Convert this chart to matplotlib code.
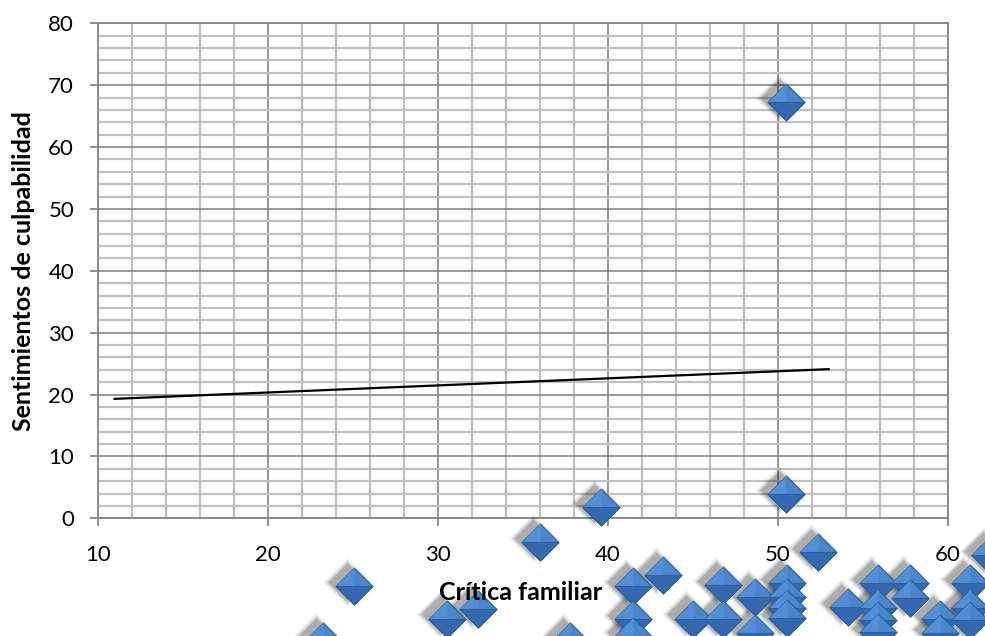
import matplotlib.pyplot as plt
from matplotlib.path import Path
from matplotlib.ticker import MultipleLocator
from matplotlib.transforms import offset_copy

plt.rcParams['font.family'] = ['Lato', 'DejaVu Sans']

# Puntos: Crítica familiar (x) vs Sentimientos de culpabilidad (y)
critica = [50.5, 39.6, 50.5, 36.0, 52.35, 43.24, 25.09, 41.47, 46.8, 50.53,
           61.31, 55.92, 57.78, 48.66, 50.53, 57.78, 62.5, 50.53, 32.35, 54.15,
           55.92, 61.31, 30.53, 41.47, 45.04, 46.8, 50.53, 59.55, 55.92, 61.31,
           48.66, 59.55, 55.92, 41.47, 23.25, 37.78]
culpa = [67.3, 1.8, 3.9, -3.8, -5.4, -9.2, -10.9, -10.9, -10.8, -10.5,
         -10.5, -10.5, -10.5, -12.7, -12.7, -12.9, -5.9, -14.5, -14.7, -14.4,
         -14.5, -14.5, -16.2, -16.3, -16.2, -16.3, -16.1, -16.3, -16.4, -16.4,
         -18.5, -18.5, -18.4, -19.0, -19.8, -19.8]

# Línea de tendencia (lineal)
trend_x = [11, 53]
trend_y = [19.3, 24.1]

x_ticks = [10, 20, 30, 40, 50, 60]
y_ticks = [0, 10, 20, 30, 40, 50, 60, 70, 80]

fig = plt.figure(figsize=(9.85, 6.36), dpi=100)
ax = fig.add_axes([0.0992, 0.1851, 0.8629, 0.7783])
ax.set_xlim(x_ticks[0], x_ticks[-1])
ax.set_ylim(y_ticks[0], y_ticks[-1])
ax.set_xticks(x_ticks)
ax.set_yticks(y_ticks)
ax.xaxis.set_minor_locator(MultipleLocator(2))
ax.yaxis.set_minor_locator(MultipleLocator(2))

ax.grid(which='minor', color='#c0c0c0', linewidth=1.6)
ax.grid(which='major', color='#868686', linewidth=1.2)
ax.set_axisbelow(True)
for s in ['left', 'bottom', 'top', 'right']:
    ax.spines[s].set_color('#868686')
    ax.spines[s].set_linewidth(1.3)

ax.tick_params(which='major', direction='out', length=6, width=1.3, color='#868686',
               labelsize=16, labelcolor='black')
ax.tick_params(axis='y', pad=11)
ax.tick_params(axis='x', pad=13)
ax.tick_params(which='minor', length=0)

# títulos de ejes como texto de figura, por encima de los rombos
fig.text(521 / 985, 1 - 592 / 636, 'Crítica familiar', fontsize=18, fontweight='bold',
         ha='center', va='center', zorder=10)
fig.text(24 / 985, 1 - 271 / 636, 'Sentimientos de culpabilidad', fontsize=18,
         fontweight='bold', rotation=90, ha='center', va='center', zorder=10)

ax.plot(trend_x, trend_y, color='black', linewidth=1.6, zorder=3)

# rombos con relieve
rombo = Path([(0, 1), (1, 0), (0, -1), (-1, 0), (0, 1)], closed=True)
mitad_inf = Path([(-1, 0), (1, 0), (0, -1), (-1, 0)], closed=True)
cara_izq = Path([(-1, 0), (0, 1), (0, 0), (-1, 0)], closed=True)
ms = 26.5

# sombra difusa hacia arriba a la izquierda
sombra = offset_copy(ax.transData, fig=fig, x=-5, y=3, units='points')
for size, alpha in [(35, 0.04), (33, 0.05), (31, 0.07), (29, 0.09), (27, 0.11)]:
    ax.plot(critica, culpa, linestyle='none', marker=rombo, markersize=size,
            markerfacecolor='black', markeredgewidth=0, alpha=alpha,
            transform=sombra, clip_on=False, zorder=4)

z = 5
for xv, yv in zip(critica, culpa):
    ax.plot([xv], [yv], linestyle='none', marker=rombo, markersize=ms,
            markerfacecolor='#4a86cd', markeredgecolor='#2f5f9e', markeredgewidth=0.8,
            clip_on=False, zorder=z)
    ax.plot([xv], [yv], linestyle='none', marker=cara_izq, markersize=ms,
            markerfacecolor='#5190d6', markeredgewidth=0,
            clip_on=False, zorder=z + 0.1)
    ax.plot([xv], [yv], linestyle='none', marker=mitad_inf, markersize=ms,
            markerfacecolor='#3569af', markeredgecolor='#2f5f9e', markeredgewidth=0.8,
            clip_on=False, zorder=z + 0.2)
    z += 0.3

fig.savefig('out.png', dpi=100)
